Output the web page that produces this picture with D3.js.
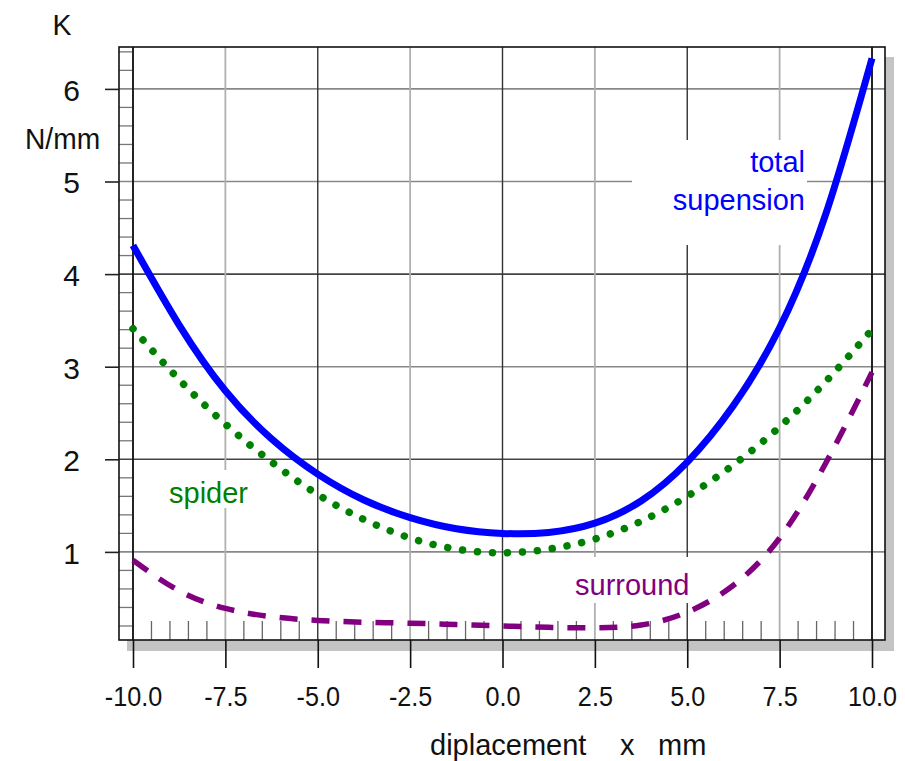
<!DOCTYPE html>
<html>
<head>
<meta charset="utf-8">
<script src="https://cdn.jsdelivr.net/npm/d3@7/dist/d3.min.js"></script>
<style>
  html, body { margin: 0; padding: 0; background: #fff; }
  svg { display: block; }
  text { font-family: "Liberation Sans", Arial, sans-serif; }
</style>
</head>
<body>
<svg id="chart" width="905" height="761"></svg>
<script>
// Suspension stiffness K(x) versus displacement
const displacement = [-10, -8.75, -7.5, -6.25, -5, -3.75, -2.5, -1.25, 0, 1.25, 2.5, 3.75, 5, 6.25, 7.5, 8.75, 10];
const totalK    = [4.31, 3.45, 2.74, 2.22, 1.84, 1.56, 1.37, 1.25, 1.20, 1.21, 1.31, 1.55, 1.97, 2.58, 3.42, 4.65, 6.33];
const spiderK   = [3.41, 2.86, 2.38, 1.97, 1.62, 1.35, 1.15, 1.03, 0.99, 1.03, 1.14, 1.33, 1.60, 1.94, 2.35, 2.84, 3.40];
const surroundK = [0.91, 0.58, 0.39, 0.30, 0.26, 0.24, 0.23, 0.215, 0.20, 0.185, 0.18, 0.21, 0.35, 0.64, 1.15, 1.96, 2.94];

const xTicks = [-10, -7.5, -5, -2.5, 0, 2.5, 5, 7.5, 10];
const yTicks = [1, 2, 3, 4, 5, 6];
const xTickLabels = ["-10.0", "-7.5", "-5.0", "-2.5", "0.0", "2.5", "5.0", "7.5", "10.0"];

const svg = d3.select("#chart");

// frame geometry
const boxL = 119, boxR = 885, boxT = 47, boxB = 640;
const x = d3.scaleLinear().domain([-10, 10]).range([133, 872]);
const y = d3.scaleLinear().domain([0, 6]).range([644.5, 88.9]);

// drop shadow and plot background
svg.append("rect").attr("x", boxL + 8).attr("y", boxT + 10)
  .attr("width", boxR - boxL + 1).attr("height", boxB - boxT + 1)
  .attr("fill", "#c4c4c4");
svg.append("rect").attr("x", boxL).attr("y", boxT)
  .attr("width", boxR - boxL).attr("height", boxB - boxT)
  .attr("fill", "#fff");

// horizontal grid lines
const gridH = svg.append("g");
yTicks.forEach(v => {
  gridH.append("line")
    .attr("x1", boxL).attr("x2", boxR)
    .attr("y1", y(v)).attr("y2", y(v))
    .attr("stroke", (v === 2 || v === 4) ? "#444" : "#888")
    .attr("stroke-width", 1.6);
});

// vertical grid lines, alternating light and dark
const gridV = svg.append("g");
xTicks.forEach((v, i) => {
  gridV.append("line")
    .attr("x1", x(v)).attr("x2", x(v))
    .attr("y1", boxT).attr("y2", boxB)
    .attr("stroke", i % 2 === 1 ? "#b0b0b0" : "#333")
    .attr("stroke-width", i % 2 === 1 ? 1.8 : 1.4);
});

// minor ticks on the left strip (every 0.2) and along the bottom (every 0.5)
const minorY = d3.range(1, 33).map(i => i * 0.2).filter(v => Math.abs(v - Math.round(v)) > 1e-6 && y(v) > boxT);
svg.append("g").selectAll("line").data(minorY).join("line")
  .attr("x1", boxL).attr("x2", 133)
  .attr("y1", d => y(d)).attr("y2", d => y(d))
  .attr("stroke", "#777").attr("stroke-width", 1.3);
const minorX = d3.range(-19, 20).map(i => i * 0.5).filter(v => Math.abs(v / 2.5 - Math.round(v / 2.5)) > 1e-6);
svg.append("g").selectAll("line").data(minorX).join("line")
  .attr("x1", d => x(d)).attr("x2", d => x(d))
  .attr("y1", boxB - 19).attr("y2", boxB)
  .attr("stroke", "#666").attr("stroke-width", 1.3);

// white panels behind the in-plot labels
const masks = [
  [632, 140, 175, 105],
  [160, 470, 96, 38],
  [570, 557, 122, 46]
];
svg.append("g").selectAll("rect").data(masks).join("rect")
  .attr("x", d => d[0]).attr("y", d => d[1])
  .attr("width", d => d[2]).attr("height", d => d[3])
  .attr("fill", "#fff");

// frame
svg.append("rect").attr("x", boxL).attr("y", boxT)
  .attr("width", boxR - boxL).attr("height", boxB - boxT)
  .attr("fill", "none").attr("stroke", "#111").attr("stroke-width", 1.6);
svg.append("line").attr("x1", 133).attr("x2", 133).attr("y1", boxT).attr("y2", boxB)
  .attr("stroke", "#111").attr("stroke-width", 1.6);
svg.append("line").attr("x1", x(10)).attr("x2", x(10)).attr("y1", boxT).attr("y2", boxB)
  .attr("stroke", "#111").attr("stroke-width", 1.6);

// axes
const xAxis = svg.append("g").attr("transform", `translate(0,${boxB})`)
  .call(d3.axisBottom(x).tickValues(xTicks).tickSize(28).tickPadding(18)
    .tickFormat((d, i) => xTickLabels[i]));
xAxis.select(".domain").remove();
xAxis.selectAll(".tick line").attr("stroke", "#111").attr("stroke-width", 1.6);
xAxis.selectAll(".tick text")
  .attr("font-size", 28).attr("fill", "#111")
  .attr("font-family", "Liberation Sans, Arial, sans-serif")
  .attr("transform", "scale(0.9,1)");

const yAxis = svg.append("g").attr("transform", `translate(${boxL},0)`)
  .call(d3.axisLeft(y).tickValues(yTicks).tickSize(14).tickPadding(25)
    .tickFormat(d3.format("d")));
yAxis.select(".domain").remove();
yAxis.selectAll(".tick line").attr("stroke", "#222").attr("stroke-width", 1.6);
yAxis.selectAll(".tick text")
  .attr("font-size", 30).attr("fill", "#111")
  .attr("font-family", "Liberation Sans, Arial, sans-serif")
  .attr("dy", "0.38em");

// curves
const pts = ys => displacement.map((d, i) => [d, ys[i]]);
const line = d3.line().x(d => x(d[0])).y(d => y(d[1])).curve(d3.curveNatural);

svg.append("path").attr("d", line(pts(surroundK)))
  .attr("fill", "none").attr("stroke", "#800080").attr("stroke-width", 5.5)
  .attr("stroke-dasharray", "18 14");
svg.append("path").attr("d", line(pts(spiderK)))
  .attr("fill", "none").attr("stroke", "#008000").attr("stroke-width", 7.5)
  .attr("stroke-linecap", "round").attr("stroke-dasharray", "0.01 15");
svg.append("path").attr("d", line(pts(totalK)))
  .attr("fill", "none").attr("stroke", "#0000ff").attr("stroke-width", 7);

// text labels
function label(txt, px, py, opts) {
  const g = svg.append("g").attr("transform", `translate(${px},${py}) scale(${opts.sx || 1},1)`);
  g.append("text").text(txt)
    .attr("font-size", opts.size)
    .attr("fill", opts.color || "#111")
    .attr("text-anchor", opts.anchor || "start");
}
label("K", 62, 35, { size: 30, anchor: "middle", sx: 0.95 });
label("N/mm", 25, 149, { size: 30, sx: 0.94 });
label("total", 805, 172, { size: 29, anchor: "end", color: "#0000ff" });
label("supension", 805, 210, { size: 29, anchor: "end", color: "#0000ff" });
label("spider", 169, 503, { size: 29, color: "#008000" });
label("surround", 575, 595, { size: 29, color: "#800080" });
label("diplacement", 430, 755, { size: 29 });
label("x", 620, 755, { size: 29 });
label("mm", 658, 755, { size: 29 });
</script>
</body>
</html>
